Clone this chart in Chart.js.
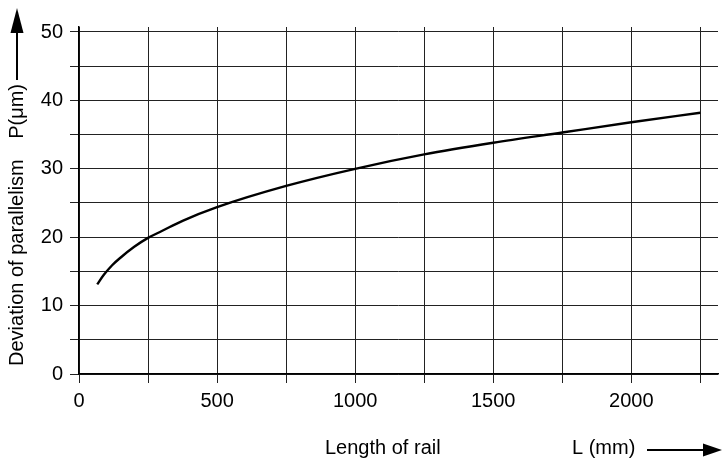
<!DOCTYPE html>
<html>
<head>
<meta charset="utf-8">
<script src="https://cdn.jsdelivr.net/npm/chart.js@4.4.1/dist/chart.umd.min.js"></script>
<style>
  html, body { margin: 0; padding: 0; background: #fff; }
  #wrap { width: 723px; height: 462px; }
</style>
</head>
<body>
<div id="wrap"><canvas id="railChart"></canvas></div>
<script>
// rail length L (mm) and deviation of parallelism P (um)
const lengths = [66, 90, 120, 150, 200, 250, 300, 375, 500, 750, 1000, 1250, 1500, 1750, 2000, 2250];
const deviation = [13.1, 14.5, 15.9, 17.0, 18.6, 19.9, 20.9, 22.4, 24.4, 27.5, 30.0, 32.1, 33.8, 35.3, 36.8, 38.2];
const xLabels = [0, 500, 1000, 1500, 2000];
const yLabels = [0, 10, 20, 30, 40, 50];

const FONT = '"Liberation Sans", Arial, sans-serif';

// titles and arrows sit outside the chart area, drawn by hand
const axisTitles = {
  id: 'axisTitles',
  afterDraw(chart) {
    const ctx = chart.ctx;
    ctx.save();
    ctx.fillStyle = '#000';
    ctx.strokeStyle = '#000';
    ctx.font = '20px ' + FONT;
    ctx.textBaseline = 'alphabetic';

    // x title
    ctx.textAlign = 'left';
    ctx.fillText('Length of rail', 325, 454);
    ctx.fillText('L (mm)', 572, 454);
    ctx.lineWidth = 2;
    ctx.beginPath();
    ctx.moveTo(647, 450);
    ctx.lineTo(706, 450);
    ctx.stroke();
    ctx.beginPath();
    ctx.moveTo(722, 450);
    ctx.lineTo(703, 443.5);
    ctx.lineTo(703, 456.5);
    ctx.closePath();
    ctx.fill();

    // y title, rotated
    ctx.save();
    ctx.translate(23, 366);
    ctx.rotate(-Math.PI / 2);
    ctx.textAlign = 'left';
    ctx.fillText('Deviation of parallelism', 0, 0);
    ctx.textAlign = 'right';
    ctx.fillText('P(\u03bcm)', 282, 0);
    ctx.restore();

    ctx.beginPath();
    ctx.moveTo(17, 80);
    ctx.lineTo(17, 30);
    ctx.stroke();
    ctx.beginPath();
    ctx.moveTo(17, 8);
    ctx.lineTo(10.5, 33);
    ctx.lineTo(23.5, 33);
    ctx.closePath();
    ctx.fill();
    ctx.restore();
  }
};

const ctx = document.getElementById('railChart').getContext('2d');
const railChart = new Chart(ctx, {
  type: 'line',
  data: {
    datasets: [{
      data: lengths.map((l, i) => ({ x: l, y: deviation[i] })),
      borderColor: '#000',
      borderWidth: 2.4,
      pointRadius: 0,
      cubicInterpolationMode: 'monotone',
      fill: false
    }]
  },
  options: {
    responsive: true,
    maintainAspectRatio: false,
    animation: false,
    layout: { padding: { top: 27, right: 5, left: 0, bottom: 0 } },
    plugins: {
      legend: { display: false },
      tooltip: { enabled: false }
    },
    scales: {
      x: {
        type: 'linear',
        min: 0,
        max: 2314,
        afterFit(scale) { scale.height = 88; },
        grid: { color: '#222', lineWidth: 1, tickLength: 9, tickColor: '#222' },
        border: { display: true, color: '#000', width: 1.5 },
        ticks: {
          stepSize: 250,
          includeBounds: false,
          autoSkip: false,
          maxRotation: 0,
          padding: 6,
          color: '#000',
          font: { family: FONT, size: 20 },
          callback: (v) => xLabels.includes(v) ? String(v) : ''
        }
      },
      y: {
        min: 0,
        max: 50.73,
        afterFit(scale) { scale.width = 79; },
        grid: { color: '#222', lineWidth: 1, tickLength: 9, tickColor: '#222' },
        border: { display: true, color: '#000', width: 1.5 },
        ticks: {
          stepSize: 5,
          includeBounds: false,
          autoSkip: false,
          padding: 7,
          color: '#000',
          font: { family: FONT, size: 20 },
          callback: (v) => yLabels.includes(v) ? String(v) : ''
        }
      }
    }
  },
  plugins: [axisTitles]
});
</script>
</body>
</html>
